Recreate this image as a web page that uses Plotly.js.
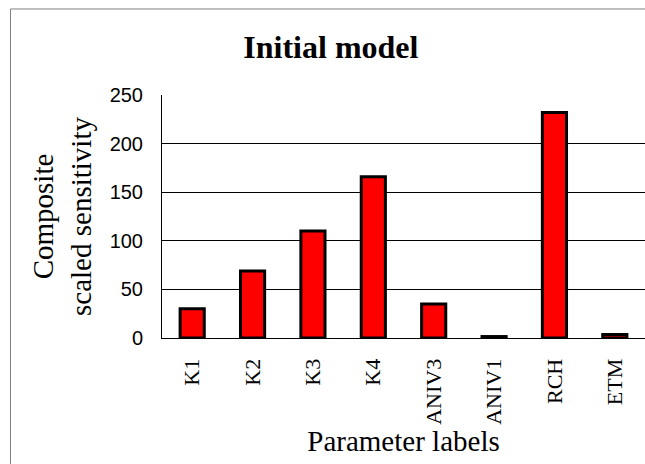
<!DOCTYPE html>
<html>
<head>
<meta charset="utf-8">
<script src="https://cdn.plot.ly/plotly-3.0.1.min.js"></script>
<style>
  html, body { margin: 0; padding: 0; background: #fff; overflow: hidden; }
  #chart { width: 645px; height: 464px; }
</style>
</head>
<body>
<div id="chart"></div>
<script>
// Parameter labels and their composite scaled sensitivities
const parameters = ['K1', 'K2', 'K3', 'K4', 'ANIV3', 'ANIV1', 'RCH', 'ETM'];
const sensitivity = [30, 69, 110, 166, 35, 1.5, 232, 3.5];
const yTicks = [0, 50, 100, 150, 200, 250];

const serif = 'Liberation Serif, Times New Roman, serif';
const sans = 'Liberation Sans, Arial, sans-serif';

const trace = {
  type: 'bar',
  x: parameters,
  y: sensitivity,
  marker: { color: '#ff0000', line: { color: '#000000', width: 3 } },
  hoverinfo: 'x+y'
};

// Outer chart frame: only its left and top edges fall inside the page
const frameLeft = -0.3137;
const frameTop = 1.354;
const frameLine = { color: '#808080', width: 1 };

const layout = {
  width: 645,
  height: 464,
  margin: { l: 162, r: 0, t: 95, b: 126, pad: 0 },
  paper_bgcolor: '#ffffff',
  plot_bgcolor: '#ffffff',
  showlegend: false,
  bargap: 0.6,
  title: {
    text: '<b>Initial model</b>',
    font: { family: serif, size: 32, color: '#000' },
    x: 0.513, xanchor: 'center',
    y: 0.9, yanchor: 'middle'
  },
  xaxis: {
    type: 'category',
    showgrid: false,
    showline: true, linecolor: '#000', linewidth: 1,
    ticks: '',
    tickangle: -90,
    ticklabelstandoff: 11,
    tickfont: { family: serif, size: 22, color: '#000' },
    title: {
      text: 'Parameter labels',
      font: { family: serif, size: 29, color: '#000' },
      standoff: 2
    }
  },
  yaxis: {
    range: [0, 250],
    tickvals: yTicks,
    showgrid: true, gridcolor: '#000', gridwidth: 1,
    zeroline: false,
    showline: true, linecolor: '#000', linewidth: 1,
    ticks: '',
    ticklabelstandoff: 14,
    tickfont: { family: sans, size: 20, color: '#000' },
    title: {
      text: 'Composite<br>scaled sensitivity',
      font: { family: serif, size: 29, color: '#000' },
      standoff: 9
    }
  },
  shapes: [
    { type: 'line', xref: 'paper', yref: 'paper',
      x0: frameLeft, x1: frameLeft, y0: -0.6, y1: frameTop, line: frameLine },
    { type: 'line', xref: 'paper', yref: 'paper',
      x0: frameLeft, x1: 1.1, y0: frameTop, y1: frameTop, line: frameLine }
  ]
};

Plotly.newPlot('chart', [trace], layout, { staticPlot: true });
</script>
</body>
</html>
